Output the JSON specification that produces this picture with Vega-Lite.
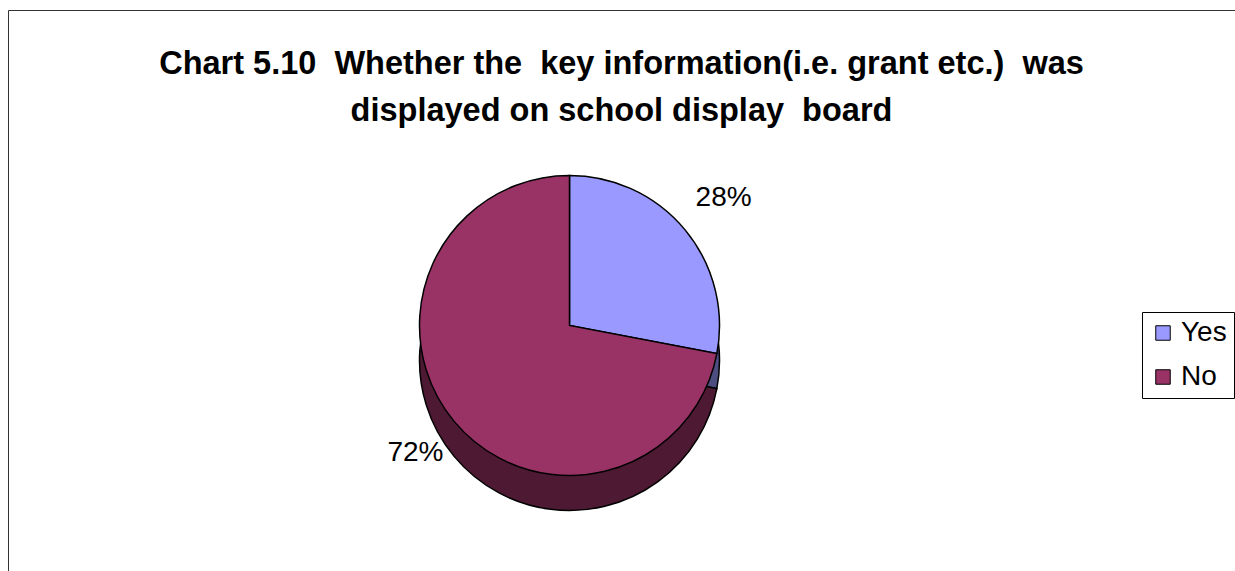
{
  "$schema": "https://vega.github.io/schema/vega-lite/v6.json",
  "width": 1227,
  "height": 561,
  "autosize": {"type": "none"},
  "padding": {"left": 8, "top": 10, "right": 0, "bottom": 0},
  "background": "white",
  "config": {
    "view": {"stroke": "#333333", "strokeWidth": 1},
    "style": {"view": {"stroke": "#333333", "strokeWidth": 1}, "cell": {"stroke": "#333333", "strokeWidth": 1}},
    "font": "Liberation Sans"
  },
  "title": {
    "text": ["Chart 5.10\u00a0 Whether the\u00a0 key information(i.e. grant etc.)\u00a0 was", "displayed on school display\u00a0 board"],
    "fontSize": 32.5,
    "font": "Liberation Sans",
    "fontWeight": "bold",
    "color": "black",
    "anchor": "middle",
    "frame": "group",
    "baseline": "top",
    "offset": -117,
    "lineHeight": 47
  },
  "data": {"values": [
    {"category": "Yes", "share": 0.28},
    {"category": "No", "share": 0.72}
  ]},
  "encoding": {
    "theta": {"field": "share", "type": "quantitative", "stack": true},
    "order": {"field": "category", "sort": "descending"}
  },
  "resolve": {"scale": {"color": "independent"}, "legend": {"color": "independent"}},
  "layer": [
    {
      "mark": {"type": "arc", "outerRadius": 150, "stroke": "black", "strokeWidth": 1.5, "xOffset": -52, "yOffset": 70},
      "encoding": {
        "color": {"field": "category", "type": "nominal", "scale": {"domain": ["Yes", "No"], "range": ["#4D4D80", "#4D1933"]}, "legend": null}
      }
    },
    {
      "mark": {"type": "arc", "outerRadius": 150, "stroke": "black", "strokeWidth": 1.5, "xOffset": -52, "yOffset": 35},
      "encoding": {
        "color": {
          "field": "category", "type": "nominal",
          "scale": {"domain": ["Yes", "No"], "range": ["#9999FF", "#993366"]},
          "legend": {
            "orient": "none", "legendX": 1134, "legendY": 302, "title": null,
            "strokeColor": "black", "fillColor": "white", "padding": 7,
            "symbolType": "square", "symbolSize": 210, "symbolStrokeColor": "black", "symbolStrokeWidth": 1,
            "symbolOpacity": 1,
            "labelFontSize": 28, "labelFont": "Liberation Sans", "labelColor": "black",
            "rowPadding": 16, "labelOffset": 4
          }
        }
      }
    },
    {
      "mark": {"type": "text", "radius": 200, "fontSize": 28, "font": "Liberation Sans", "color": "black", "xOffset": -52, "yOffset": 35},
      "encoding": {
        "text": {"field": "share", "type": "quantitative", "format": ".0%"}
      }
    }
  ]
}
